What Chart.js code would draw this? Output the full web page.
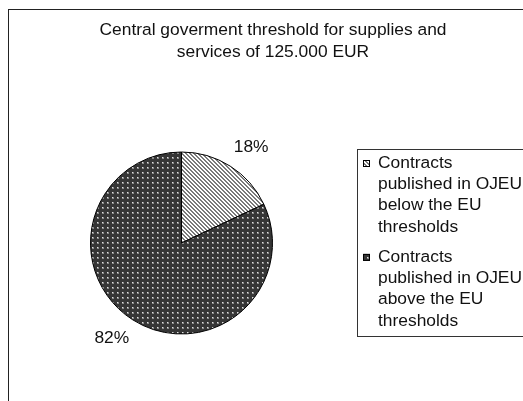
<!DOCTYPE html>
<html>
<head>
<meta charset="utf-8">
<script src="https://cdn.jsdelivr.net/npm/chart.js@4/dist/chart.umd.min.js"></script>
<style>
  body { margin: 0; background: #fff; }
  #wrap { width: 523px; height: 401px; }
</style>
</head>
<body>
<div id="wrap"><canvas id="pieChart" width="523" height="401"></canvas></div>
<script>
var titleLines = ["Central goverment threshold for supplies and", "services of 125.000 EUR"];
var categories = [
    ["Contracts", "published in OJEU", "below the EU", "thresholds"],
    ["Contracts", "published in OJEU", "above the EU", "thresholds"]
];
var shares = [18, 82];
var shareLabels = ["18%", "82%"];

var FONT = "17.4px 'Liberation Sans', Arial, sans-serif";

// striped fill for the small slice
function makeStripes() {
    var c = document.createElement("canvas");
    c.width = 4; c.height = 4;
    var g = c.getContext("2d");
    g.fillStyle = "#fff";
    g.fillRect(0, 0, 4, 4);
    g.fillStyle = "#7a7a7a";
    for (var i = 0; i < 4; i++) {
        g.fillRect(i, i, 1, 1);
        g.fillRect((i + 1) % 4, i, 1, 1);
    }
    return g.createPattern(c, "repeat");
}

// dark fill with light dots for the big slice
function makeDots() {
    var c = document.createElement("canvas");
    c.width = 5; c.height = 5;
    var g = c.getContext("2d");
    g.fillStyle = "#363636";
    g.fillRect(0, 0, 5, 5);
    g.fillStyle = "#8a8a8a";
    g.fillRect(2, 2, 2, 2);
    g.fillStyle = "#e0e0e0";
    g.fillRect(2, 2, 1, 1);
    return g.createPattern(c, "repeat");
}

var fills = [makeStripes(), makeDots()];

var decorPlugin = {
    id: "decor",
    beforeDraw: function (chart) {
        var ctx = chart.ctx;
        ctx.save();
        ctx.fillStyle = "#fff";
        ctx.fillRect(0, 0, chart.width, chart.height);
        ctx.restore();
    },
    afterDraw: function (chart) {
        var ctx = chart.ctx;
        ctx.save();

        // outer frame
        ctx.strokeStyle = "#222";
        ctx.lineWidth = 1;
        ctx.strokeRect(8.5, 9.5, 540, 420);

        // title
        ctx.fillStyle = "#111";
        ctx.font = FONT;
        ctx.textAlign = "center";
        ctx.textBaseline = "middle";
        ctx.fillText(titleLines[0], 273, 30);
        ctx.fillText(titleLines[1], 273, 52);

        // percentage labels
        var meta = chart.getDatasetMeta(0);
        meta.data.forEach(function (arc, i) {
            var mid = (arc.startAngle + arc.endAngle) / 2;
            var x = arc.x + Math.cos(mid) * (arc.outerRadius + 39);
            var y = arc.y + Math.sin(mid) * (arc.outerRadius + 22);
            ctx.fillText(shareLabels[i], x, y);
        });

        // legend
        ctx.strokeStyle = "#333";
        ctx.strokeRect(357.5, 149.5, 180, 187);
        ctx.textAlign = "left";
        var y0 = 163;
        categories.forEach(function (lines, i) {
            ctx.fillStyle = fills[i];
            ctx.fillRect(363, y0 - 3, 7, 7);
            ctx.strokeStyle = "#000";
            ctx.strokeRect(363.5, y0 - 2.5, 6, 6);
            ctx.fillStyle = "#111";
            lines.forEach(function (t, j) {
                ctx.fillText(t, 378, y0 + j * 21.3);
            });
            y0 += 3 * 21.3 + 30;
        });

        ctx.restore();
    }
};

new Chart(document.getElementById("pieChart"), {
    type: "pie",
    data: {
        labels: categories.map(function (c) { return c.join(" "); }),
        datasets: [{
            data: shares,
            backgroundColor: fills,
            borderColor: "#000",
            borderWidth: 1
        }]
    },
    options: {
        responsive: false,
        animation: false,
        layout: { padding: { left: 90, top: 151.5, right: 250, bottom: 66.5 } },
        plugins: {
            legend: { display: false },
            title: { display: false },
            tooltip: { enabled: false }
        }
    },
    plugins: [decorPlugin]
});
</script>
</body>
</html>
